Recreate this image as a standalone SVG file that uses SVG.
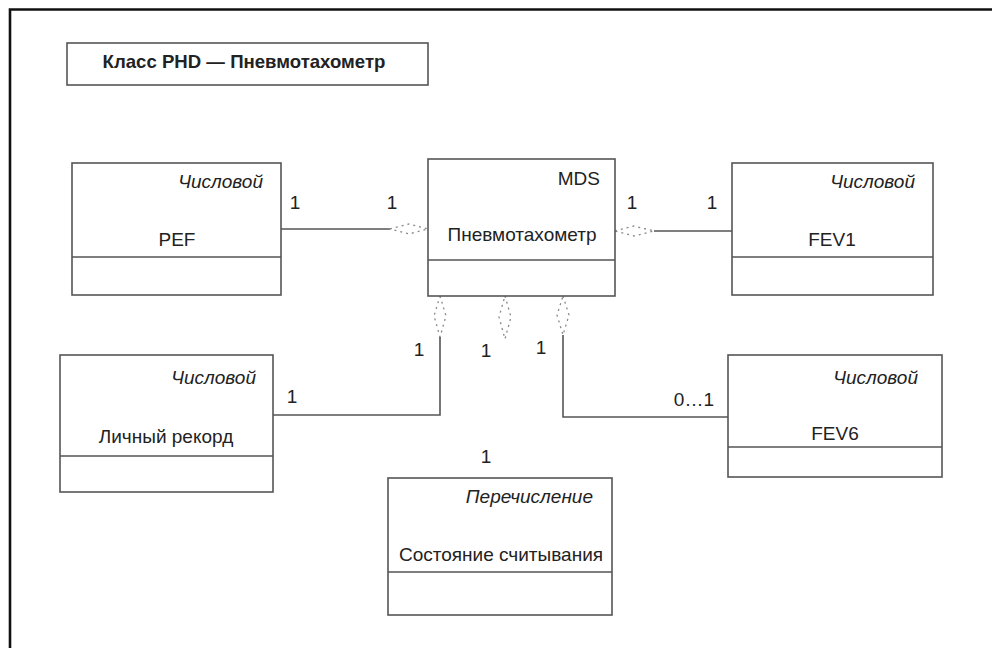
<svg xmlns="http://www.w3.org/2000/svg" width="992" height="648" viewBox="0 0 992 648">
<style>
text{font-family:"Liberation Sans",Arial,sans-serif;font-size:19px;fill:#222}
.it{font-style:italic}
.b{font-weight:bold;font-size:18.6px}
.m{text-anchor:middle}
.e{text-anchor:end}
.box{fill:#fff;stroke:#555;stroke-width:1.6}
.ln{fill:none;stroke:#555;stroke-width:1.6}
.dia{fill:none;stroke:#888;stroke-width:1.3;stroke-dasharray:2 4}
</style>
<rect width="992" height="648" fill="#fff"/>
<path d="M10 648 V9.5 H992" fill="none" stroke="#111" stroke-width="2.6"/>
<g id="title">
<rect class="box" x="67" y="43" width="361" height="42"/>
<text class="b m" x="244" y="68">Класс PHD — Пневмотахометр</text>
</g>
<g id="connectors">
<path class="ln" d="M281 229 H390"/>
<path class="dia" d="M390 229 L409 224 L428 229 L409 234 Z"/>
<path class="ln" d="M654 231 H732"/>
<path class="dia" d="M615 231 L634 226 L654 231 L634 236 Z"/>
<path class="dia" d="M440 296 L446 316 L440 337 L434 316 Z"/>
<path class="ln" d="M440 337 V415 H273"/>
<path class="dia" d="M505 296 L511 317 L505 339 L499 317 Z"/>
<path class="dia" d="M563 296 L569 315 L563 335 L557 315 Z"/>
<path class="ln" d="M563 335 V417 H728"/>
<text class="m" x="295" y="209">1</text>
<text class="m" x="392" y="209">1</text>
<text class="m" x="632" y="209">1</text>
<text class="m" x="712" y="209">1</text>
<text class="m" x="419" y="356">1</text>
<text class="m" x="486" y="357">1</text>
<text class="m" x="541" y="354">1</text>
<text class="m" x="292" y="403">1</text>
<text class="e" x="714" y="406">0…1</text>
<text class="m" x="486" y="463">1</text>
</g>
<g id="mds">
<rect class="box" x="428" y="159" width="187" height="137"/>
<path class="ln" d="M428 260 H615"/>
<text class="e" x="600" y="185">MDS</text>
<text class="m" x="522" y="241">Пневмотахометр</text>
</g>
<g id="pef">
<rect class="box" x="72" y="163" width="209" height="132"/>
<path class="ln" d="M72 257 H281"/>
<text class="it e" x="263" y="188">Числовой</text>
<text class="m" x="177" y="246">PEF</text>
</g>
<g id="fev1">
<rect class="box" x="732" y="163" width="201" height="132"/>
<path class="ln" d="M732 257 H933"/>
<text class="it e" x="915" y="188">Числовой</text>
<text class="m" x="832" y="246">FEV1</text>
</g>
<g id="record">
<rect class="box" x="60" y="355" width="213" height="137"/>
<path class="ln" d="M60 456 H273"/>
<text class="it e" x="256" y="384">Числовой</text>
<text class="m" x="166" y="443">Личный рекорд</text>
</g>
<g id="fev6">
<rect class="box" x="728" y="355" width="214" height="122"/>
<path class="ln" d="M728 447 H942"/>
<text class="it e" x="918" y="384">Числовой</text>
<text class="m" x="835" y="440">FEV6</text>
</g>
<g id="state">
<rect class="box" x="388" y="478" width="224" height="137"/>
<path class="ln" d="M388 572 H612"/>
<text class="it e" x="593" y="503">Перечисление</text>
<text class="m" x="501" y="561">Состояние считывания</text>
</g>
</svg>
